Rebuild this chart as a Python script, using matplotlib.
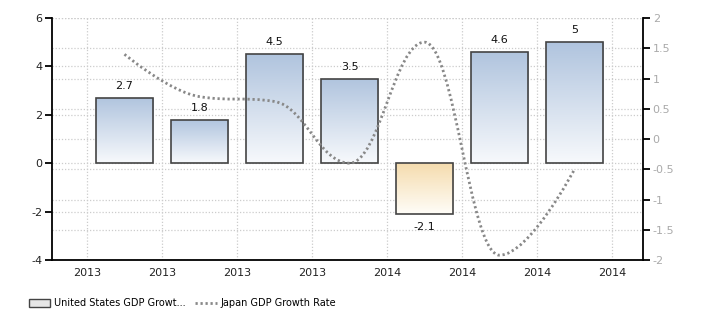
import numpy as np
import matplotlib
matplotlib.use("Agg")
import matplotlib.pyplot as plt
from matplotlib.path import Path
from matplotlib.patches import PathPatch, Rectangle
from matplotlib.colors import LinearSegmentedColormap
from matplotlib.lines import Line2D

# ---- data ----
x_tick_labels = ["2013", "2013", "2013", "2013", "2014", "2014", "2014", "2014"]
us_gdp = [2.7, 1.8, 4.5, 3.5, -2.1, 4.6, 5.0]
japan_gdp = [1.4, 0.7, 0.62, -0.4, 1.6, -1.92, -0.5]
left_ticks = [-4, -2, 0, 2, 4, 6]
right_ticks = [-2, -1.5, -1, -0.5, 0, 0.5, 1, 1.5, 2]
series_names = ["United States GDP Growt...", "Japan GDP Growth Rate"]

plt.rcParams['font.family'] = ['DejaVu Sans']
fig = plt.figure(figsize=(7.10, 3.25), dpi=100)
ax = fig.add_axes([52/710, 1 - 260/325, (643-52)/710, (260-18)/325])
ax2 = ax.twinx()

n = len(us_gdp)
bar_x = np.arange(n) + 0.5
ax.set_xlim(-35/75, 7 + 31/75)
ax.set_ylim(-4, 6)
ax2.set_ylim(-2, 2)

grid_kw = dict(color="#cccccc", linestyle=(0, (1, 1.5)), linewidth=0.9)
ax.set_xticks(np.arange(len(x_tick_labels)))
ax.set_xticklabels(x_tick_labels)
ax.set_yticks(left_ticks)
ax.set_yticklabels([str(t) for t in left_ticks])
ax2.set_yticks(right_ticks)
ax2.set_yticklabels([("%g" % t) for t in right_ticks])
ax.grid(True, axis="both", **grid_kw)
for t in right_ticks:
    ax.axhline(t * 2.5 + 1, zorder=0.5, **grid_kw)
ax.set_axisbelow(True)

for a in (ax, ax2):
    a.spines["top"].set_visible(False)
    a.patch.set_visible(False)
ax.spines["right"].set_visible(False)
ax2.spines["left"].set_visible(False)
ax2.spines["bottom"].set_visible(False)
for s in ("left", "bottom"):
    ax.spines[s].set_linewidth(1.3)
ax2.spines["right"].set_linewidth(1.3)

ax.tick_params(axis="x", length=0, pad=6, labelsize=8, labelcolor="#222222")
ax.tick_params(axis="y", length=5, width=1.3, labelsize=8, labelcolor="#222222", pad=2)
ax2.tick_params(axis="y", length=5, width=1.3, labelsize=8, labelcolor="#aaaaaa", pad=2)

blue_cmap = LinearSegmentedColormap.from_list("b", ["#f7f9fc", "#b0c4de"])
orange_cmap = LinearSegmentedColormap.from_list("o", ["#fffdf8", "#f5dcae"])
grad = np.linspace(0, 1, 256).reshape(-1, 1)

bars = ax.bar(bar_x, us_gdp, width=0.77, facecolor="none", edgecolor="#444444",
              linewidth=1.2, zorder=3)
for b, v in zip(bars, us_gdp):
    x0 = b.get_x(); w = b.get_width()
    if v >= 0:
        im = ax.imshow(grad, cmap=blue_cmap, origin="lower", aspect="auto",
                       extent=(x0, x0 + w, 0, v), zorder=2)
    else:
        im = ax.imshow(grad, cmap=orange_cmap, origin="lower", aspect="auto",
                       extent=(x0, x0 + w, v, 0), zorder=2)
    im.set_clip_path(b)
    if v >= 0:
        ax.annotate(("%g" % v), (b.get_x() + w / 2, v), xytext=(0, 5),
                    textcoords="offset points", ha="center", va="bottom",
                    fontsize=8, color="#111111")
    else:
        ax.annotate(("%g" % v), (b.get_x() + w / 2, v), xytext=(0, -6),
                    textcoords="offset points", ha="center", va="top",
                    fontsize=8, color="#111111")
ax.set_xlim(-35/75, 7 + 31/75)
ax.set_ylim(-4, 6)

# smooth spline (Highcharts-style) for Japan
xs = list(bar_x); ys = list(japan_gdp)
sm = 1.5; den = sm + 1
lc = [None] * n; rc = [None] * n
for i in range(1, n - 1):
    px, py = xs[i], ys[i]
    lx, ly = xs[i-1], ys[i-1]
    nx, ny = xs[i+1], ys[i+1]
    lcx = (sm * px + lx) / den; lcy = (sm * py + ly) / den
    rcx = (sm * px + nx) / den; rcy = (sm * py + ny) / den
    corr = ((rcy - lcy) * (rcx - px)) / (rcx - lcx) + py - rcy
    lcy += corr; rcy += corr
    if lcy > ly and lcy > py:
        lcy = max(ly, py); rcy = 2 * py - lcy
    elif lcy < ly and lcy < py:
        lcy = min(ly, py); rcy = 2 * py - lcy
    if rcy > ny and rcy > py:
        rcy = max(ny, py); lcy = 2 * py - rcy
    elif rcy < ny and rcy < py:
        rcy = min(ny, py); lcy = 2 * py - rcy
    lc[i] = (lcx, lcy); rc[i] = (rcx, rcy)
verts = [(xs[0], ys[0])]; codes = [Path.MOVETO]
for i in range(1, n):
    c1 = rc[i-1] if rc[i-1] else (xs[i-1], ys[i-1])
    c2 = lc[i] if lc[i] else (xs[i], ys[i])
    verts += [c1, c2, (xs[i], ys[i])]
    codes += [Path.CURVE4] * 3
patch = PathPatch(Path(verts, codes), facecolor="none", edgecolor="#888888",
                  linewidth=2.0, linestyle=(0, (0.8, 1.0)), zorder=5,
                  transform=ax2.transData)
ax2.add_patch(patch)

# legend
handles = [Rectangle((0, 0), 1, 1, facecolor="#e6e6e6", edgecolor="#444444", linewidth=1.0),
           Line2D([], [], color="#888888", linewidth=2.0, linestyle=(0, (0.8, 1.0)))]
fig.legend(handles, series_names, loc="lower left", bbox_to_anchor=(20/710, 8/325),
           ncol=2, frameon=False, fontsize=7, handlelength=2.2, handleheight=0.9,
           columnspacing=1.0, handletextpad=0.4)

fig.savefig("out.png", dpi=100)
